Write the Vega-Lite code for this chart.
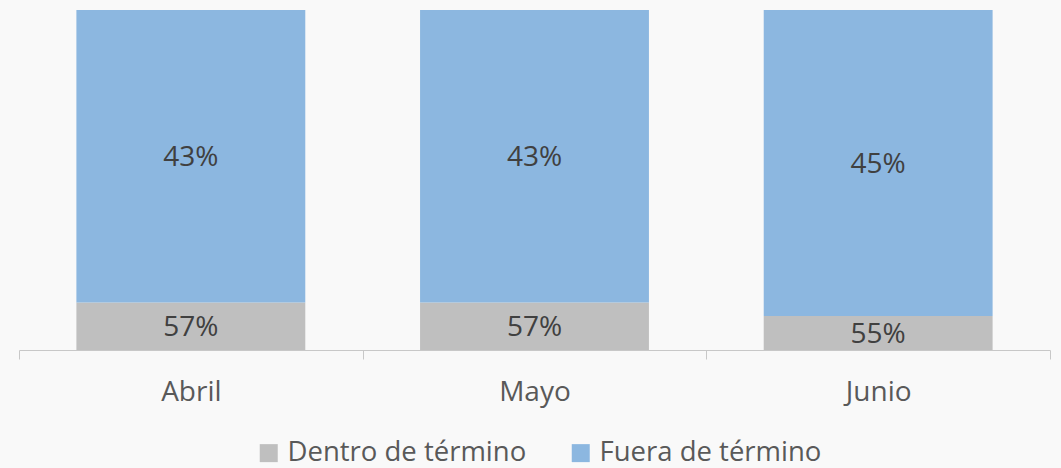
{
  "$schema": "https://vega.github.io/schema/vega-lite/v6.json",
  "width": 1031,
  "height": 340,
  "autosize": {"type": "none"},
  "padding": {"left": 19, "top": 10, "right": 11, "bottom": 118},
  "background": "#f9f9f9",
  "config": {"view": {"stroke": null}, "font": "Open Sans"},
  "data": {
    "values": [
      {"mes": "Abril", "estado": "Dentro de término", "valor": 0.57},
      {"mes": "Abril", "estado": "Fuera de término", "valor": 0.43},
      {"mes": "Mayo", "estado": "Dentro de término", "valor": 0.57},
      {"mes": "Mayo", "estado": "Fuera de término", "valor": 0.43},
      {"mes": "Junio", "estado": "Dentro de término", "valor": 0.55},
      {"mes": "Junio", "estado": "Fuera de término", "valor": 0.45}
    ]
  },
  "transform": [
    {"stack": "valor", "groupby": ["mes"], "sort": [{"field": "estado", "order": "ascending"}], "as": ["v0", "v1"]},
    {"calculate": "(max(datum.v0, 0.5) + min(datum.v1, 1)) / 2", "as": "mid"}
  ],
  "encoding": {
    "x": {
      "field": "mes",
      "type": "nominal",
      "sort": ["Abril", "Mayo", "Junio"],
      "scale": {"paddingInner": 0, "paddingOuter": 0},
      "axis": {
        "title": null,
        "labelAngle": 0,
        "tickBand": "extent",
        "domainColor": "#c8c8c8",
        "tickColor": "#c8c8c8",
        "tickSize": 9,
        "labelFontSize": 28,
        "labelColor": "#595959",
        "labelPadding": 19
      }
    }
  },
  "layer": [
    {
      "mark": {"type": "bar", "width": {"band": 0.666}},
      "encoding": {
        "y": {"field": "v0", "type": "quantitative", "scale": {"domain": [0.5, 1], "clamp": true}, "axis": null},
        "y2": {"field": "v1"},
        "color": {
          "field": "estado",
          "type": "nominal",
          "scale": {"domain": ["Dentro de término", "Fuera de término"], "range": ["#bfbfbf", "#8cb7e0"]},
          "legend": {
            "orient": "none",
            "legendX": 236,
            "legendY": 429,
            "direction": "horizontal",
            "title": null,
            "symbolType": "square",
            "symbolSize": 324,
            "symbolStrokeWidth": 0,
            "symbolOpacity": 1,
            "labelFontSize": 27.5,
            "labelColor": "#595959",
            "labelOffset": 5,
            "labelLimit": 0,
            "columnPadding": 40,
            "padding": 0
          }
        }
      }
    },
    {
      "mark": {"type": "text", "fontSize": 28, "color": "#404040", "dy": 2},
      "encoding": {
        "y": {"field": "mid", "type": "quantitative"},
        "text": {"field": "valor", "type": "quantitative", "format": ".0%"}
      }
    }
  ]
}
